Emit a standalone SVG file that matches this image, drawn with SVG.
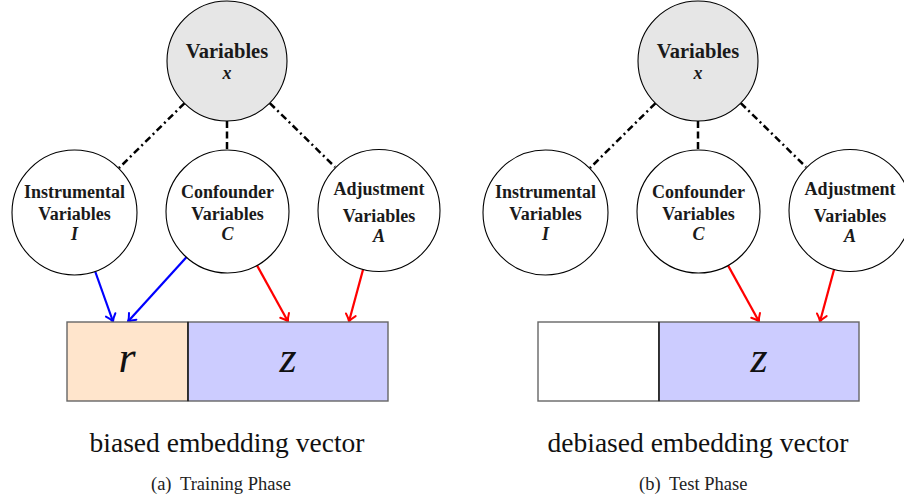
<svg xmlns="http://www.w3.org/2000/svg" width="904" height="501" viewBox="0 0 904 501">
<style>
.node{fill:#ffffff;stroke:#000;stroke-width:1.1}
.top{fill:#e6e6e6;stroke:#000;stroke-width:1.1}
.lbl{font-family:"Liberation Serif","Times New Roman",serif;font-weight:bold;font-size:18px;fill:#1a1a1a;text-anchor:middle}
.tlbl{font-family:"Liberation Serif","Times New Roman",serif;font-weight:bold;font-size:20.5px;fill:#1a1a1a;text-anchor:middle}
.xl{font-family:"Liberation Serif","Times New Roman",serif;font-weight:bold;font-style:italic;font-size:18px;fill:#1a1a1a;text-anchor:middle}
.it{font-style:italic}
.dd{stroke:#000;stroke-width:2.5;fill:none;stroke-dasharray:7 3.5 2 3.5}
.ds{stroke:#000;stroke-width:2.5;fill:none;stroke-dasharray:7 3.5}
.blue{stroke:#0000ff;stroke-width:2.2;fill:none}
.red{stroke:#ff0000;stroke-width:2.2;fill:none}
.box{stroke:#666;stroke-width:1.4}
.big{font-family:"Liberation Serif","Times New Roman",serif;font-style:italic;font-size:44px;fill:#111;text-anchor:middle}
.cap{font-family:"Liberation Serif","Times New Roman",serif;font-size:27.5px;fill:#111;text-anchor:middle}
.sub{font-family:"Liberation Serif","Times New Roman",serif;font-size:18.5px;fill:#222}
</style>
<defs>
<marker id="ab" markerUnits="userSpaceOnUse" markerWidth="16" markerHeight="16" viewBox="-9 -8 11 16" refX="0" refY="0" orient="auto">
<path d="M-7,-5 Q-3,-1.2 0,0 Q-3,1.2 -7,5" stroke="#0000ff" stroke-width="2" fill="none" stroke-linecap="round"/>
</marker>
<marker id="ar" markerUnits="userSpaceOnUse" markerWidth="16" markerHeight="16" viewBox="-9 -8 11 16" refX="0" refY="0" orient="auto">
<path d="M-7,-5 Q-3,-1.2 0,0 Q-3,1.2 -7,5" stroke="#ff0000" stroke-width="2" fill="none" stroke-linecap="round"/>
</marker>
</defs>
<rect width="904" height="501" fill="#ffffff"/>

<!-- connectors -->
<g id="connectors">
<line class="dd" x1="184.4" y1="103.3" x2="119" y2="168"/>
<line class="ds" x1="227" y1="121" x2="227" y2="150"/>
<line class="dd" x1="269.8" y1="103.1" x2="335" y2="167"/>
<line class="blue" x1="95.2" y1="271.5" x2="113" y2="321.5" marker-end="url(#ab)"/>
<line class="blue" x1="186.4" y1="257.2" x2="128" y2="321.5" marker-end="url(#ab)"/>
<line class="red" x1="257" y1="265.4" x2="288" y2="321.5" marker-end="url(#ar)"/>
<line class="red" x1="363.1" y1="269.4" x2="349" y2="321.5" marker-end="url(#ar)"/>

<line class="dd" x1="655.4" y1="103.3" x2="590" y2="168"/>
<line class="ds" x1="698" y1="121" x2="698" y2="150"/>
<line class="dd" x1="740.8" y1="103.1" x2="806" y2="167"/>
<line class="red" x1="728" y1="265.4" x2="759" y2="321.5" marker-end="url(#ar)"/>
<line class="red" x1="834.1" y1="269.4" x2="820" y2="321.5" marker-end="url(#ar)"/>
</g>

<!-- left panel nodes -->
<g id="a_x">
<circle class="top" cx="227" cy="61" r="60"/>
<text class="tlbl" x="227" y="58">Variables</text>
<text class="xl" x="227" y="79">x</text>
</g>
<g id="a_I">
<circle class="node" cx="74.5" cy="212.5" r="62.5"/>
<text class="lbl" x="74.5" y="198">Instrumental</text>
<text class="lbl" x="74.5" y="220">Variables</text>
<text class="lbl it" x="74.5" y="240">I</text>
</g>
<g id="a_C">
<circle class="node" cx="227.5" cy="211.5" r="61.5"/>
<text class="lbl" x="227.5" y="198">Confounder</text>
<text class="lbl" x="227.5" y="220">Variables</text>
<text class="lbl it" x="227.5" y="240">C</text>
</g>
<g id="a_A">
<circle class="node" cx="379" cy="210.5" r="61"/>
<text class="lbl" x="379" y="195">Adjustment</text>
<text class="lbl" x="379" y="222">Variables</text>
<text class="lbl it" x="379" y="242">A</text>
</g>
<g id="a_vec">
<rect class="box" x="67" y="322" width="121" height="79" fill="#ffe5cc"/>
<rect class="box" x="188" y="322" width="200" height="79" fill="#ccccff"/>
<line x1="188" y1="322" x2="188" y2="401" stroke="#000" stroke-width="1.2"/>
<text class="big" x="127" y="372">r</text>
<text class="big" x="288" y="372">z</text>
</g>
<text class="cap" x="227" y="452">biased embedding vector</text>
<text class="sub" x="151" y="490">(a)</text>
<text class="sub" x="180" y="490">Training Phase</text>

<!-- right panel nodes -->
<g id="b_x">
<circle class="top" cx="698" cy="61" r="60"/>
<text class="tlbl" x="698" y="58">Variables</text>
<text class="xl" x="698" y="79">x</text>
</g>
<g id="b_I">
<circle class="node" cx="545.5" cy="212.5" r="62.5"/>
<text class="lbl" x="545.5" y="198">Instrumental</text>
<text class="lbl" x="545.5" y="220">Variables</text>
<text class="lbl it" x="545.5" y="240">I</text>
</g>
<g id="b_C">
<circle class="node" cx="698.5" cy="211.5" r="61.5"/>
<text class="lbl" x="698.5" y="198">Confounder</text>
<text class="lbl" x="698.5" y="220">Variables</text>
<text class="lbl it" x="698.5" y="240">C</text>
</g>
<g id="b_A">
<circle class="node" cx="850" cy="210.5" r="61"/>
<text class="lbl" x="850" y="195">Adjustment</text>
<text class="lbl" x="850" y="222">Variables</text>
<text class="lbl it" x="850" y="242">A</text>
</g>
<g id="b_vec">
<rect class="box" x="538" y="322" width="121" height="79" fill="#ffffff"/>
<rect class="box" x="659" y="322" width="200" height="79" fill="#ccccff"/>
<line x1="659" y1="322" x2="659" y2="401" stroke="#000" stroke-width="1.2"/>
<text class="big" x="759" y="372">z</text>
</g>
<text class="cap" x="698" y="452">debiased embedding vector</text>
<text class="sub" x="639" y="490">(b)</text>
<text class="sub" x="669" y="490">Test Phase</text>
</svg>
